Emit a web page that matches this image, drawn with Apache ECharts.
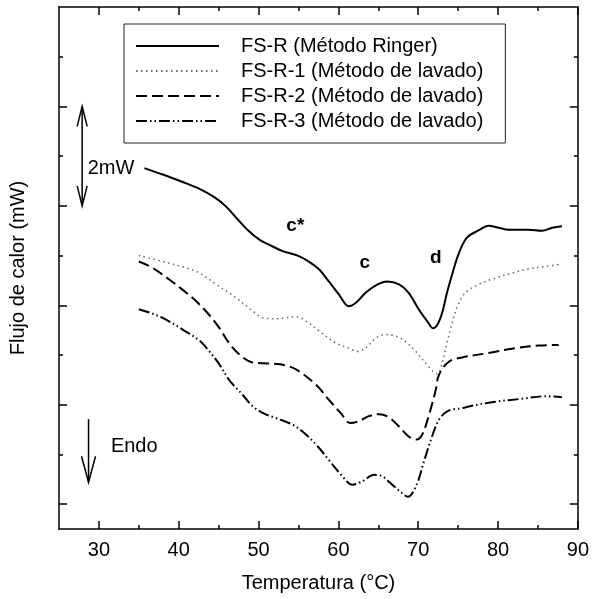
<!DOCTYPE html>
<html><head><meta charset="utf-8">
<script src="https://cdn.jsdelivr.net/npm/echarts@6/dist/echarts.min.js"></script>
<style>html,body{margin:0;padding:0;background:#fff}#c{width:592px;height:599px}</style>
</head><body><div id="c"></div>
<script>
const seriesNames = ['FS-R (Método Ringer)', 'FS-R-1 (Método de lavado)', 'FS-R-2 (Método de lavado)', 'FS-R-3 (Método de lavado)'];
// [temperature °C, heat flow mW (arbitrary offset)]
const fsR = [[35.7,6.76],[38.0,6.63],[40.5,6.48],[42.6,6.34],[44.5,6.17],[45.9,5.99],[47.2,5.76],[48.6,5.52],[50.1,5.32],[51.3,5.22],[53.0,5.09],[54.9,5.00],[56.3,4.88],[57.6,4.72],[58.8,4.48],[60.1,4.21],[61.3,3.98],[62.2,4.05],[63.4,4.25],[64.9,4.42],[66.1,4.48],[67.6,4.42],[68.8,4.25],[70.1,3.91],[71.3,3.64],[71.8,3.54],[72.4,3.61],[73.0,3.85],[73.6,4.25],[74.3,4.65],[75.1,5.05],[76.1,5.36],[77.6,5.51],[78.8,5.60],[80.1,5.56],[81.3,5.52],[83.8,5.52],[85.5,5.50],[86.8,5.56],[88.0,5.59]];
const fsR1 = [[35.0,5.00],[38.0,4.88],[42.2,4.68],[44.7,4.42],[47.2,4.15],[49.3,3.88],[50.5,3.75],[52.2,3.73],[54.7,3.77],[56.3,3.64],[57.6,3.48],[59.7,3.24],[61.3,3.14],[62.4,3.07],[63.4,3.14],[64.7,3.34],[65.9,3.41],[67.2,3.38],[68.4,3.27],[69.7,3.07],[70.9,2.84],[72.4,2.62],[73.0,2.84],[73.6,3.24],[74.3,3.67],[74.9,3.98],[75.9,4.25],[77.6,4.42],[79.7,4.55],[81.8,4.65],[83.8,4.73],[85.9,4.78],[87.6,4.82]];
const fsR2 = [[35.0,4.88],[36.75,4.75],[38.8,4.52],[40.5,4.31],[42.2,4.08],[43.8,3.81],[45.1,3.54],[46.3,3.24],[47.6,3.01],[49.25,2.85],[51.3,2.83],[53.4,2.79],[54.9,2.69],[57.2,2.40],[58.8,2.10],[60.3,1.83],[61.5,1.63],[62.6,1.67],[63.8,1.77],[65.1,1.81],[66.3,1.75],[67.6,1.56],[68.8,1.36],[69.8,1.30],[70.5,1.40],[71.3,1.77],[72.2,2.30],[72.6,2.60],[73.8,2.86],[75.5,2.95],[78.8,3.04],[82.2,3.14],[85.1,3.19],[87.6,3.20]];
const fsR3 = [[35.0,3.92],[36.75,3.83],[38.4,3.71],[40.5,3.51],[42.6,3.29],[43.8,3.08],[45.1,2.81],[46.3,2.50],[48.0,2.20],[49.25,1.97],[50.7,1.82],[52.2,1.73],[54.25,1.60],[55.5,1.46],[57.2,1.20],[58.8,0.89],[60.5,0.56],[61.75,0.39],[63.0,0.46],[64.5,0.59],[65.5,0.56],[66.75,0.39],[68.0,0.22],[68.7,0.15],[69.8,0.39],[70.7,0.85],[71.6,1.30],[72.6,1.70],[73.8,1.88],[75.5,1.93],[76.75,1.98],[79.7,2.06],[83.0,2.12],[85.9,2.17],[88.0,2.15]];
const xMajorTicks = [30,40,50,60,70,80,90];
const xMinorTicks = [35,45,55,65,75,85];
const yMajorTicks = [0,2,4,6,8];
const yMinorTicks = [1,3,5,7,9];
const peakLabels = [['c*',54.6,5.6],['c',63.3,4.86],['d',72.2,4.96]];

const FONT = 'Liberation Sans, Arial, sans-serif';
const chart = echarts.init(document.getElementById('c'), null, {renderer:'canvas'});
const axisLine = {show:true, onZero:false, lineStyle:{color:'#000', width:1.5}};
function xAx(pos, ticks, len, main){
  return {type:'value', min:25, max:90, position:pos,
    axisLine: main ? axisLine : {show:false, onZero:false},
    axisTick:{show:true, inside:true, length:len, customValues:ticks, lineStyle:{color:'#000', width:1.5}},
    axisLabel: (main && pos==='bottom') ? {show:true, customValues:xMajorTicks, color:'#000', fontSize:20, fontFamily:FONT, margin:11} : {show:false},
    splitLine:{show:false},
    name: (main && pos==='bottom') ? 'Temperatura (°C)' : '',
    nameLocation:'middle', nameGap:44,
    nameTextStyle:{color:'#000', fontSize:20, fontFamily:FONT}};
}
function yAx(pos, ticks, len, main){
  return {type:'value', min:-0.5, max:10, position:pos,
    axisLine: main ? axisLine : {show:false, onZero:false},
    axisTick:{show:true, inside:true, length:len, customValues:ticks, lineStyle:{color:'#000', width:1.5}},
    axisLabel:{show:false}, splitLine:{show:false},
    name: (main && pos==='left') ? 'Flujo de calor (mW)' : '',
    nameLocation:'middle', nameGap:31,
    nameTextStyle:{color:'#000', fontSize:20, fontFamily:FONT}};
}
const styles = [
  {color:'#000', width:2, type:'solid'},
  {color:'#666', width:1.5, type:[1.5,3.5]},
  {color:'#000', width:2, type:[11,5]},
  {color:'#000', width:2, type:[11,3,1.5,3,1.5,3]}
];
const datas = [fsR, fsR1, fsR2, fsR3];
chart.setOption({
  animation:false,
  backgroundColor:'#fff',
  grid:{left:59, right:13, top:7, bottom:70, containLabel:false},
  xAxis:[xAx('bottom', xMajorTicks, 8, true), xAx('bottom', xMinorTicks, 4, false), xAx('top', xMajorTicks, 8, true), xAx('top', xMinorTicks, 4, false)],
  yAxis:[yAx('left', yMajorTicks, 8, true), yAx('left', yMinorTicks, 4, false), yAx('right', yMajorTicks, 8, true), yAx('right', yMinorTicks, 4, false)],
  legend:{orient:'vertical', left:124, top:24, itemWidth:83, itemHeight:14, itemGap:5,
    borderColor:'#222', borderWidth:1, padding:[12,22,12,11], backgroundColor:'#fff',
    itemStyle:{opacity:0},
    textStyle:{color:'#000', fontSize:20, fontFamily:FONT, lineHeight:20, padding:[0,0,0,17]},
    data:seriesNames},
  series: datas.map((d,i)=>({name:seriesNames[i], type:'line', data:d, symbol:'none', smooth:0.35,
    xAxisIndex:0, yAxisIndex:0, lineStyle:styles[i], itemStyle:{color:styles[i].color}}))
});
function px(t,v){ return chart.convertToPixel({xAxisIndex:0, yAxisIndex:0}, [t,v]); }
function arrowHead(tip, dir, w, l){
  return {type:'polyline', shape:{points:[[tip[0]-w, tip[1]-dir*l],[tip[0], tip[1]],[tip[0]+w, tip[1]-dir*l]]},
    style:{stroke:'#000', lineWidth:1.5, fill:null}};
}
const g = [];
const a1 = px(27.9, 8.0), a2 = px(27.9, 6.0);
g.push({type:'line', shape:{x1:a1[0], y1:a1[1], x2:a2[0], y2:a2[1]}, style:{stroke:'#000', lineWidth:1.5}});
g.push(arrowHead(a1, -1, 5, 20));
g.push(arrowHead(a2, 1, 5, 20));
const e1 = px(28.7, 1.71), e2 = px(28.7, 0.44);
g.push({type:'line', shape:{x1:e1[0], y1:e1[1], x2:e2[0], y2:e2[1]}, style:{stroke:'#000', lineWidth:1.5}});
g.push(arrowHead(e2, 1, 7, 26));
const t1 = px(28.6, 6.75), t2 = px(31.5, 1.16);
g.push({type:'text', style:{text:'2mW', x:t1[0], y:t1[1], font:'20px '+FONT, fill:'#000', align:'left', verticalAlign:'middle'}});
g.push({type:'text', style:{text:'Endo', x:t2[0], y:t2[1], font:'20px '+FONT, fill:'#000', align:'left', verticalAlign:'middle'}});
peakLabels.forEach(p=>{ const q = px(p[1], p[2]);
  g.push({type:'text', style:{text:p[0], x:q[0], y:q[1], font:'bold 19px '+FONT, fill:'#000', align:'center', verticalAlign:'middle'}}); });
chart.setOption({graphic:g});
</script></body></html>
